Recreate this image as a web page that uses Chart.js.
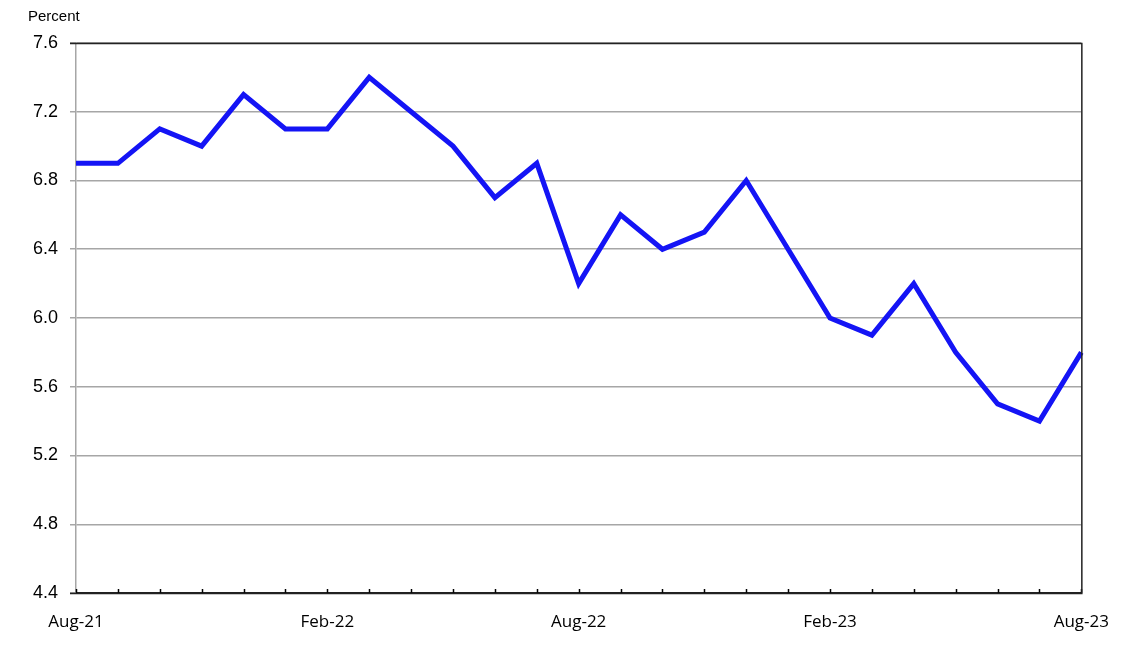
<!DOCTYPE html>
<html>
<head>
<meta charset="utf-8">
<script src="https://cdn.jsdelivr.net/npm/chart.js@4"></script>
<style>
html,body{margin:0;padding:0;background:#fff;}
#wrap{width:1128px;height:660px;position:relative;}
</style>
</head>
<body>
<div id="wrap"><canvas id="c" width="1128" height="660"></canvas></div>
<script>
const months = ["Aug-21","Sep-21","Oct-21","Nov-21","Dec-21","Jan-22","Feb-22","Mar-22","Apr-22","May-22","Jun-22","Jul-22","Aug-22","Sep-22","Oct-22","Nov-22","Dec-22","Jan-23","Feb-23","Mar-23","Apr-23","May-23","Jun-23","Jul-23","Aug-23"];
const values = [6.9,6.9,7.1,7.0,7.3,7.1,7.1,7.4,7.2,7.0,6.7,6.9,6.2,6.6,6.4,6.5,6.8,6.4,6.0,5.9,6.2,5.8,5.5,5.4,5.8];
const yTicks = [4.4,4.8,5.2,5.6,6.0,6.4,6.8,7.2,7.6];
const yUnit = "Percent";

const framePlugin = {
  id: 'frame',
  afterDraw(chart) {
    const ctx = chart.ctx, a = chart.chartArea, xs = chart.scales.x;
    ctx.save();
    ctx.strokeStyle = '#000';
    ctx.lineWidth = 1.5;
    for (let i = 0; i < months.length; i++) {
      const px = Math.round(xs.getPixelForValue(i)) + 0.5;
      ctx.beginPath();
      ctx.moveTo(px, a.bottom);
      ctx.lineTo(px, a.bottom - 4);
      ctx.stroke();
    }
    ctx.lineWidth = 1.5;
    ctx.strokeStyle = '#222';
    ctx.beginPath();
    ctx.moveTo(a.left - 6, a.top + 0.5);
    ctx.lineTo(a.right + 0.5, a.top + 0.5);
    ctx.lineTo(a.right + 0.5, a.bottom + 0.5);
    ctx.lineTo(a.left - 6, a.bottom + 0.5);
    ctx.stroke();
    ctx.fillStyle = '#000';
    ctx.font = '15px "Liberation Sans", Arial, sans-serif';
    ctx.textAlign = 'left';
    ctx.textBaseline = 'middle';
    ctx.fillText(yUnit, 28, 17);
    ctx.restore();
  }
};

new Chart(document.getElementById('c'), {
  type: 'line',
  data: {
    labels: months,
    datasets: [{
      data: values,
      borderColor: '#1414F5',
      borderWidth: 5,
      pointRadius: 0,
      tension: 0,
      fill: false,
      borderJoinStyle: 'miter'
    }]
  },
  options: {
    responsive: false,
    animation: false,
    events: [],
    plugins: { legend: { display: false }, tooltip: { enabled: false } },
    layout: { padding: { top: 43, right: 46, left: 0, bottom: 0 } },
    scales: {
      x: {
        type: 'category',
        offset: false,
        grid: { display: false, drawTicks: false },
        border: { display: true, color: '#222', width: 1.5 },
        ticks: {
          autoSkip: false,
          maxRotation: 0,
          padding: 19,
          color: '#000',
          font: { family: '"Open Sans", "Noto Sans", sans-serif', size: 17 },
          callback: function(v, i) { return i % 6 === 0 ? months[i] : ''; }
        },
        afterFit(s) { s.height = 67; }
      },
      y: {
        min: 4.4,
        max: 7.6,
        afterBuildTicks(s) { s.ticks = yTicks.map(v => ({ value: v })); },
        grid: { color: '#a6a6a6', lineWidth: 1.5, tickLength: 6, drawTicks: true },
        border: { display: true, color: '#a6a6a6', width: 1.5 },
        ticks: {
          padding: 12,
          color: '#000',
          font: { family: '"Liberation Sans", Arial, sans-serif', size: 18 },
          callback: v => Number(v).toFixed(1)
        },
        afterFit(s) { s.width = 76; }
      }
    }
  },
  plugins: [framePlugin]
});
</script>
</body>
</html>
